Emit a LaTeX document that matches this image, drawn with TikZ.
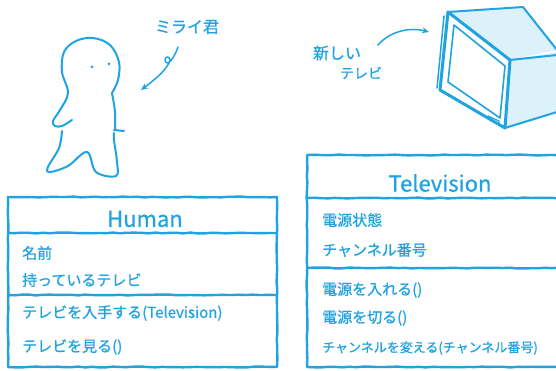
\documentclass[tikz,border=0pt]{standalone}
\usepackage{fontspec}
\setmainfont[FakeBold=0.8]{Noto Sans CJK JP}
\usetikzlibrary{arrows.meta,decorations.pathmorphing}
\definecolor{ink}{HTML}{1FA3E1}
\definecolor{facefill}{HTML}{DDF1FB}
\tikzset{
  crayon/.style={draw=ink, line width=2pt, line cap=round, line join=round},
  boxline/.style={crayon, line width=2.4pt, decorate,
    decoration={random steps, segment length=7pt, amplitude=0.45pt}},
  member/.style={text=ink, inner sep=0pt, anchor=west, font=\fontsize{15}{15}\selectfont},
  classname/.style={text=ink, inner sep=0pt, font=\fontsize{22}{22}\selectfont},
  note/.style={text=ink, inner sep=0pt, font=\fontsize{16}{16}\selectfont},
  pointer/.style={crayon, line width=1.5pt, -{Stealth[length=7pt,width=6pt]}},
}
\begin{document}
\begin{tikzpicture}[x=1pt, y=-1pt]
  \pgfmathsetseed{7}
  \useasboundingbox (0,0) rectangle (556,371);
  \fill[white] (0,0) rectangle (556,371);
  \clip (0,0) rectangle (556,371);

  % --- the little person ---
  \draw[crayon] plot[smooth, tension=0.6] coordinates {
    (112,93) (118,80) (119,62) (110,45) (93,38) (76,41) (64,52) (62,72) (68,93)
    (60,110) (53,121) (55,126) (62,126) (72,120)};
  \draw[crayon] plot[smooth, tension=0.6] coordinates {
    (112,93) (115,112) (115,129)};
  \draw[crayon] (114,130) -- (124,131);
  \draw[crayon] plot[smooth, tension=0.6] coordinates {
    (62,131) (59,148) (48,167) (50,172) (68,166) (87,152) (96,172) (116,176)
    (117,162) (114,140) (114,133)};
  \fill[ink] (92,67) circle (1.5) (109,64) circle (1.5);

  % --- label for the person ---
  \node[note] (mirai) at (187,27) {ミライ君};
  \coordinate (mirai-tip) at (141,90);
  \draw[pointer] plot[smooth, tension=0.7] coordinates {
    (178,47) (174,56) (168,63) (165,60) (167,57) (170,60) (165,69) (155,79) (mirai-tip)};

  % --- the new television set ---
  \fill[facefill] (448,12) -- (523,7) -- (557,50) -- (510,60) -- cycle;
  \fill[facefill] (510,60) -- (557,52) -- (557,112) -- (505,128) -- cycle;
  \draw[crayon] (448,12) -- (523,7) -- (557,50);
  \draw[crayon] (510,60) -- (557,55);
  \draw[crayon] (505,128) -- (557,112);
  \draw[crayon, line width=3pt] (448,12) -- (440,90) -- (505,128) -- (510,60) -- cycle;
  \draw[crayon, line width=1.5pt] (444,16) -- (437,88);
  \draw[crayon, line width=1.6pt] (454,25) -- (448,82) -- (500,118) -- (505,66) -- cycle;
  \draw[crayon, line width=1.2pt] (488,116) -- (499,121) -- (499,124) -- (488,119) -- cycle;

  \node[note] (newtv1) at (337,53) {新しい};
  \node[note, font=\fontsize{14}{14}\selectfont] (newtv2) at (361,73) {テレビ};
  \coordinate (tv-tip) at (429,32);
  \draw[pointer] (378,45) .. controls (390,31) and (410,27) .. (tv-tip);

  % --- class box: Human ---
  \draw[boxline] (8,197) rectangle (277,367);
  \draw[boxline] (8,233) -- (277,233);
  \draw[boxline] (8,295) -- (277,295);
  \node[classname] (human) at (145,219) {Human};
  \node[member] (h-name)  at (22,253) {名前};
  \node[member] (h-tv)    at (22,280) {持っているテレビ};
  \node[member] (h-get)   at (22,313) {テレビを入手する(Television)};
  \node[member] (h-watch) at (22,347) {テレビを見る()};

  % --- class box: Television ---
  \draw[boxline] (307,155) rectangle (570,367);
  \draw[boxline] (307,198) -- (570,198);
  \draw[boxline] (307,268) -- (570,268);
  \node[classname] (television) at (440,183) {Television};
  \node[member] (t-power)  at (322,220) {電源状態};
  \node[member] (t-chan)   at (322,250) {チャンネル番号};
  \node[member] (t-on)     at (322,290) {電源を入れる()};
  \node[member] (t-off)    at (322,318) {電源を切る()};
  \node[member, font=\fontsize{13}{13}\selectfont] (t-change) at (322,348) {チャンネルを変える(チャンネル番号)};
\end{tikzpicture}
\end{document}
